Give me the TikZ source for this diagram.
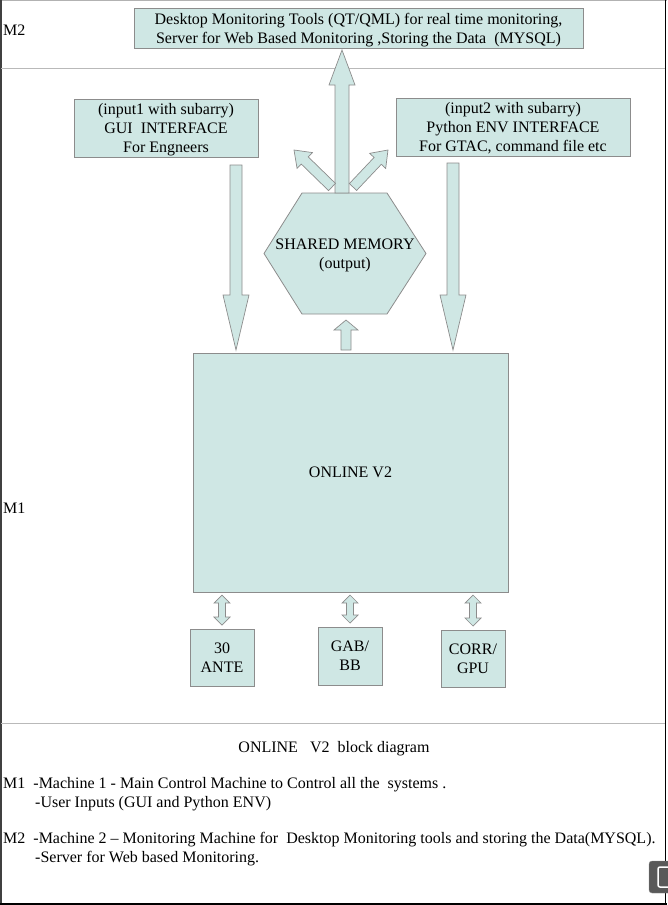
\documentclass[tikz,border=0pt]{standalone}
\usepackage{fontspec}
\setmainfont{Liberation Serif}
\usetikzlibrary{calc}
\definecolor{boxfill}{HTML}{CFE7E4}
\definecolor{boxline}{HTML}{8C8C8C}
\tikzset{
  box/.style={
    draw=boxline, fill=boxfill, line width=0.8pt,
    align=center, inner sep=0pt, outer sep=0pt, text depth=0pt,
  },
  barrow/.style={
    draw=boxline, fill=boxfill, line width=0.7pt, line join=miter,
  },
  sepline/.style={draw=gray!55, line width=1pt},
  note/.style={anchor=west, inner sep=0pt},
}
\pgfdeclarelayer{back}
\pgfsetlayers{back, main}
% block arrow: from, to, half shaft, half head, head length
\newcommand{\blockarrow}[5]{
  \coordinate (ba-s) at (#1);
  \coordinate (ba-e) at (#2);
  \coordinate (ba-n) at ($(ba-e)!#5!(ba-s)$);
  \filldraw[barrow] ($(ba-s)!#3!90:(ba-e)$) -- ($(ba-n)!#3!-90:(ba-s)$)
    -- ($(ba-n)!#4!-90:(ba-s)$) -- (ba-e) -- ($(ba-n)!#4!90:(ba-s)$)
    -- ($(ba-n)!#3!90:(ba-s)$) -- ($(ba-s)!#3!-90:(ba-e)$) -- cycle;
}
% two-headed block arrow
\newcommand{\dblarrow}[5]{
  \coordinate (ba-s) at (#1);
  \coordinate (ba-e) at (#2);
  \coordinate (ba-n) at ($(ba-s)!#5!(ba-e)$);
  \coordinate (ba-m) at ($(ba-e)!#5!(ba-s)$);
  \filldraw[barrow] (ba-s) -- ($(ba-n)!#4!90:(ba-e)$) -- ($(ba-n)!#3!90:(ba-e)$)
    -- ($(ba-m)!#3!-90:(ba-s)$) -- ($(ba-m)!#4!-90:(ba-s)$) -- (ba-e)
    -- ($(ba-m)!#4!90:(ba-s)$) -- ($(ba-m)!#3!90:(ba-s)$)
    -- ($(ba-n)!#3!-90:(ba-e)$) -- ($(ba-n)!#4!-90:(ba-e)$) -- cycle;
}

\begin{document}
\begin{tikzpicture}[x=1pt, y=1pt, font=\fontsize{16}{19}\selectfont]
\useasboundingbox (0,0) rectangle (667,-905);

% frame
\draw[gray!60, line width=1pt] (0,-0.5) -- (667,-0.5);
\draw[black!75, line width=1.2pt] (1,0) -- (1,-905);
\draw[black, line width=1.2pt] (665.5,0) -- (665.5,-905);
\draw[black, line width=1.2pt] (0,-904) -- (667,-904);
\draw[sepline] (1,-68) -- (665,-68);
\draw[sepline] (1,-723) -- (665,-723);

% boxes
\node[box, minimum width=449, minimum height=40] (mon) at (358.5,-28)
  {Desktop Monitoring Tools (QT/QML) for real time monitoring,\\
   Server for Web Based Monitoring ,Storing the Data\ \ (MYSQL)};
\node[box, minimum width=184, minimum height=58] (gui) at (166,-128)
  {(input1 with subarry)\\GUI\ \ INTERFACE\\For Engneers};
\node[box, minimum width=234, minimum height=58] (pyenv) at (513,-127)
  {(input2 with subarry)\\Python ENV INTERFACE\\For GTAC, command file etc};
\node[align=center, inner sep=0pt, outer sep=0pt, text depth=0pt,
  minimum width=162, minimum height=121] (shm) at (345,-253.5)
  {SHARED MEMORY\\(output)};
\begin{pgfonlayer}{back}
\filldraw[box] (shm.west) -- ([xshift=-43]shm.north) -- ([xshift=42]shm.north)
  -- (shm.east) -- ([xshift=42]shm.south) -- ([xshift=-43]shm.south) -- cycle;
\end{pgfonlayer}
\node[box, minimum width=315, minimum height=239] (main) at (350.5,-472.5)
  {ONLINE V2};
\node[box, minimum width=64, minimum height=57] (ante) at (222,-657.5)
  {30\\ANTE};
\node[box, minimum width=64, minimum height=58] (gab) at (350,-656)
  {GAB/\\BB};
\node[box, minimum width=64, minimum height=57] (corr) at (473,-658.5)
  {CORR/\\GPU};

% arrows
\blockarrow{[xshift=-3]shm.north}{[shift={(-16.5,-2)}]mon.south}{7pt}{13pt}{35pt}
\blockarrow{[shift={(-13,6)}]shm.north}{[shift={(36,7)}]gui.south east}{5pt}{11pt}{15pt}
\blockarrow{[shift={(8,6)}]shm.north}{[shift={(-8,6)}]pyenv.south west}{5pt}{11pt}{15pt}
\blockarrow{[shift={(70,-8)}]gui.south}{[shift={(43,3)}]main.north west}{6pt}{13pt}{55pt}
\blockarrow{[shift={(-60,-7)}]pyenv.south}{[shift={(-55,3)}]main.north east}{6pt}{13pt}{55pt}
\blockarrow{[shift={(-4.5,3)}]main.north}{[shift={(1,-6)}]shm.south}{5pt}{12pt}{10pt}
\dblarrow{[yshift=-3]main.south -| ante}{[yshift=4]ante.north}{3.5pt}{8pt}{8pt}
\dblarrow{[yshift=-3]main.south -| gab}{[yshift=4]gab.north}{3.5pt}{8pt}{8pt}
\dblarrow{[yshift=-3]main.south -| corr}{[yshift=4]corr.north}{3.5pt}{8pt}{8pt}

% labels
\node[note] (lblM2) at (3,-30) {M2};
\node[note] (lblM1) at (3,-508) {M1};
\node[inner sep=0pt] (caption) at (334,-749) {ONLINE\ \ \ V2\ \ block diagram};
\node[note] (note1a) at (3,-785)
  {M1\ \ -Machine 1 - Main Control Machine to Control all the\ \ systems .};
\node[note] (note1b) at (35,-804) {-User Inputs (GUI and Python ENV)};
\node[note] (note2a) at (3,-840)
  {M2\ \ -Machine 2 -- Monitoring Machine for\ \ Desktop Monitoring tools and storing the Data(MYSQL).};
\node[note] (note2b) at (35,-859) {-Server for Web based Monitoring.};

% viewer button
\filldraw[fill=black!65, draw=black!45, rounded corners=3pt] (649,-861) rectangle (672,-893);
\draw[white, line width=1.5pt, rounded corners=2pt] (658,-867) rectangle (672,-887);
\end{tikzpicture}
\end{document}
